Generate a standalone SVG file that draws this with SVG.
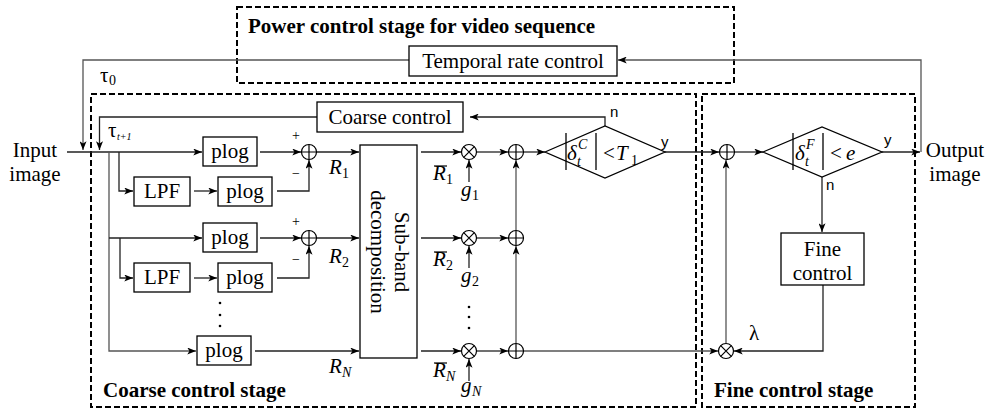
<svg xmlns="http://www.w3.org/2000/svg" xmlns:xlink="http://www.w3.org/1999/xlink" width="1001" height="411" viewBox="0 0 1001 411">
<style>
.t{font-family:"Liberation Serif","Times New Roman",serif;font-size:21px;fill:#000}
.b{font-weight:bold}
.i{font-style:italic}
.s{font-size:14px}
.xs{font-size:10px}
.sans{font-family:"Liberation Sans",Arial,sans-serif;font-size:15px;fill:#000}
.mid{text-anchor:middle}
.box{fill:#fff;stroke:#000;stroke-width:1.3}
.dash{fill:none;stroke:#000;stroke-width:2;stroke-dasharray:6 3}
.ln{fill:none;stroke:#222;stroke-width:1.3}
.lg{fill:none;stroke:#555;stroke-width:1.3}
.arr{marker-end:url(#ah)}
.sym{fill:#fff;stroke:#000;stroke-width:1.2}
</style>
<defs>
<marker id="ah" viewBox="0 0 10 8" refX="10" refY="4" markerWidth="9" markerHeight="7" markerUnits="userSpaceOnUse" orient="auto">
<path d="M0,0 L10,4 L0,8 L2.5,4 z" fill="#000"/>
</marker>
<g id="plus"><circle r="7.5" class="sym"/><path d="M-7.5,0 H7.5 M0,-7.5 V7.5" stroke="#000" stroke-width="1.2"/></g>
<g id="times"><circle r="7.5" class="sym"/><path d="M-5.3,-5.3 L5.3,5.3 M5.3,-5.3 L-5.3,5.3" stroke="#000" stroke-width="1.2"/></g>
</defs>

<!-- stage boxes -->
<g id="power-stage">
<rect x="237" y="7" width="497" height="76" class="dash"/>
<text x="248" y="33" class="t b">Power control stage for video sequence</text>
</g>
<g id="coarse-stage">
<rect x="91" y="94" width="605" height="313" class="dash"/>
<text x="103" y="397" class="t b">Coarse control stage</text>
</g>
<g id="fine-stage">
<rect x="702" y="94" width="213" height="313" class="dash"/>
<text x="714" y="397" class="t b">Fine control stage</text>
</g>

<!-- connectors -->
<g id="connectors">
<path d="M67,152 H202" class="ln arr"/>
<path d="M409,60 H83 V150" class="lg arr"/>
<path d="M921,152 V60 H618" class="lg arr"/>
<path d="M605,126 V117 H470" class="ln arr"/>
<path d="M317,117 H99.5 V150" class="ln arr"/>
<path d="M109,152 V351 H196" class="lg arr"/>
<path d="M119,152 V191 H133" class="ln arr"/>
<path d="M194,191 H217" class="ln arr"/>
<path d="M260,152 H301" class="ln arr"/>
<path d="M277,191 H309 V160" class="ln arr"/>
<path d="M109,238 H202" class="ln arr"/>
<path d="M120,238 V278 H133" class="ln arr"/>
<path d="M194,278 H217" class="ln arr"/>
<path d="M260,238 H301" class="ln arr"/>
<path d="M277,278 H309 V246" class="ln arr"/>
<path d="M255,351 H359" class="ln arr"/>
<path d="M317,152 H359" class="ln arr"/>
<path d="M317,238 H359" class="ln arr"/>
<path d="M421,152 H461" class="ln arr"/>
<path d="M421,238 H461" class="ln arr"/>
<path d="M421,351 H461" class="ln arr"/>
<path d="M469,182 V160" class="ln arr"/>
<path d="M469,268 V246" class="ln arr"/>
<path d="M469,381 V359" class="ln arr"/>
<path d="M477,152 H508" class="ln arr"/>
<path d="M477,238 H508" class="ln arr"/>
<path d="M477,351 H508" class="ln arr"/>
<path d="M516,343 V246" class="lg arr"/>
<path d="M516,230 V160" class="lg arr"/>
<path d="M524,152 H545" class="ln arr"/>
<path d="M665,152 H719" class="ln arr"/>
<path d="M735,152 H763" class="ln arr"/>
<path d="M882,152 H920" class="ln arr"/>
<path d="M822,177 V232" class="ln arr"/>
<path d="M823,285 V351 H734" class="ln arr"/>
<path d="M524,351 H718" class="lg arr"/>
<path d="M726,343 V160" class="lg arr"/>
</g>

<!-- io labels -->
<g id="input">
<text x="35" y="157" class="t mid">Input</text>
<text x="35" y="181" class="t mid">image</text>
</g>
<g id="output">
<text x="955" y="157" class="t mid">Output</text>
<text x="955" y="181" class="t mid">image</text>
</g>
<g id="tau-labels">
<text x="100" y="82" class="t">τ</text><text x="109" y="85" class="t s">0</text>
<text x="108" y="137" class="t">τ</text><text x="117" y="140" class="t xs i">t+1</text>
<text x="749" y="340" class="t">λ</text>
</g>

<!-- nodes -->
<g id="temporal-rate-control">
<rect x="409" y="46" width="208" height="30" class="box"/>
<text x="513" y="68" class="t mid">Temporal rate control</text>
</g>
<g id="coarse-control">
<rect x="317" y="102" width="146" height="30" class="box"/>
<text x="390" y="124" class="t mid">Coarse control</text>
</g>
<g id="plog-1a">
<rect x="203" y="137" width="54" height="29" class="box"/>
<text x="230" y="158" class="t mid">plog</text>
</g>
<g id="lpf-1">
<rect x="134" y="177" width="56" height="29" class="box"/>
<text x="162" y="198" class="t mid">LPF</text>
</g>
<g id="plog-1b">
<rect x="218" y="177" width="54" height="29" class="box"/>
<text x="245" y="198" class="t mid">plog</text>
</g>
<g id="plog-2a">
<rect x="203" y="223" width="54" height="29" class="box"/>
<text x="230" y="244" class="t mid">plog</text>
</g>
<g id="lpf-2">
<rect x="134" y="263" width="56" height="29" class="box"/>
<text x="162" y="284" class="t mid">LPF</text>
</g>
<g id="plog-2b">
<rect x="218" y="263" width="54" height="29" class="box"/>
<text x="245" y="284" class="t mid">plog</text>
</g>
<g id="dots-left">
<circle cx="220" cy="303" r="1.3"/><circle cx="220" cy="315" r="1.3"/><circle cx="220" cy="326" r="1.3"/>
</g>
<g id="plog-n">
<rect x="197" y="336" width="54" height="29" class="box"/>
<text x="224" y="357" class="t mid">plog</text>
</g>
<g id="sum-1">
<use xlink:href="#plus" x="309" y="152"/>
<text x="292" y="140" class="t s">+</text>
<text x="292" y="178" class="t s">−</text>
</g>
<g id="sum-2">
<use xlink:href="#plus" x="309" y="238"/>
<text x="292" y="226" class="t s">+</text>
<text x="292" y="264" class="t s">−</text>
</g>
<g id="r-labels">
<text x="329" y="174" class="t i">R</text><text x="342" y="178" class="t s">1</text>
<text x="329" y="263" class="t i">R</text><text x="342" y="267" class="t s">2</text>
<text x="329" y="373" class="t i">R</text><text x="342" y="377" class="t i s">N</text>
</g>
<g id="subband">
<rect x="360" y="145" width="57" height="213" class="box"/>
<g transform="translate(388.5,252) rotate(90)">
<text x="0" y="-6" class="t mid">Sub-band</text>
<text x="0" y="18" class="t mid">decomposition</text>
</g>
</g>
<g id="mult-1">
<use xlink:href="#times" x="469" y="152"/>
<text x="433" y="180" class="t i">R</text><line x1="434" y1="166" x2="447" y2="166" stroke="#000" stroke-width="1.2"/><text x="446" y="184" class="t s">1</text>
<text x="461" y="196" class="t i">g</text><text x="472" y="200" class="t s">1</text>
</g>
<g id="mult-2">
<use xlink:href="#times" x="469" y="238"/>
<text x="433" y="266" class="t i">R</text><line x1="434" y1="252" x2="447" y2="252" stroke="#000" stroke-width="1.2"/><text x="446" y="270" class="t s">2</text>
<text x="461" y="282" class="t i">g</text><text x="472" y="286" class="t s">2</text>
</g>
<g id="dots-mid">
<circle cx="469" cy="307" r="1.3"/><circle cx="469" cy="317" r="1.3"/><circle cx="469" cy="328" r="1.3"/>
</g>
<g id="mult-n">
<use xlink:href="#times" x="469" y="351"/>
<text x="433" y="377" class="t i">R</text><line x1="434" y1="363" x2="447" y2="363" stroke="#000" stroke-width="1.2"/><text x="446" y="381" class="t i s">N</text>
<text x="461" y="392" class="t i">g</text><text x="472" y="396" class="t i s">N</text>
</g>
<g id="add-1"><use xlink:href="#plus" x="516" y="152"/></g>
<g id="add-2"><use xlink:href="#plus" x="516" y="238"/></g>
<g id="add-n"><use xlink:href="#plus" x="516" y="351"/></g>
<g id="coarse-decision">
<polygon points="545,152 605,126 665,152 605,178" class="box"/>
<line x1="566" y1="133" x2="566" y2="170" stroke="#000" stroke-width="1.3"/>
<line x1="596" y1="133" x2="596" y2="170" stroke="#000" stroke-width="1.3"/>
<text x="567" y="160" class="t i">δ</text>
<text x="578" y="149" class="t i s">C</text>
<text x="577" y="166" class="t i s">t</text>
<text x="603" y="160" class="t">&lt;</text>
<text x="616" y="160" class="t i">T</text>
<text x="631" y="165" class="t s">1</text>
<text x="610" y="117" class="sans">n</text>
<text x="661" y="147" class="sans">y</text>
</g>
<g id="fine-add"><use xlink:href="#plus" x="727" y="152"/></g>
<g id="fine-decision">
<polygon points="763,152 822,127 882,152 822,177" class="box"/>
<line x1="793" y1="133" x2="793" y2="170" stroke="#000" stroke-width="1.3"/>
<line x1="823" y1="133" x2="823" y2="170" stroke="#000" stroke-width="1.3"/>
<text x="795" y="160" class="t i">δ</text>
<text x="806" y="149" class="t i s">F</text>
<text x="805" y="166" class="t i s">t</text>
<text x="830" y="160" class="t">&lt;</text>
<text x="846" y="160" class="t i">e</text>
<text x="884" y="145" class="sans">y</text>
<text x="826" y="190" class="sans">n</text>
</g>
<g id="fine-control">
<rect x="781" y="233" width="83" height="52" class="box"/>
<text x="822.5" y="256" class="t mid">Fine</text>
<text x="822.5" y="280" class="t mid">control</text>
</g>
<g id="fine-mult"><use xlink:href="#times" x="726" y="351"/></g>
</svg>
